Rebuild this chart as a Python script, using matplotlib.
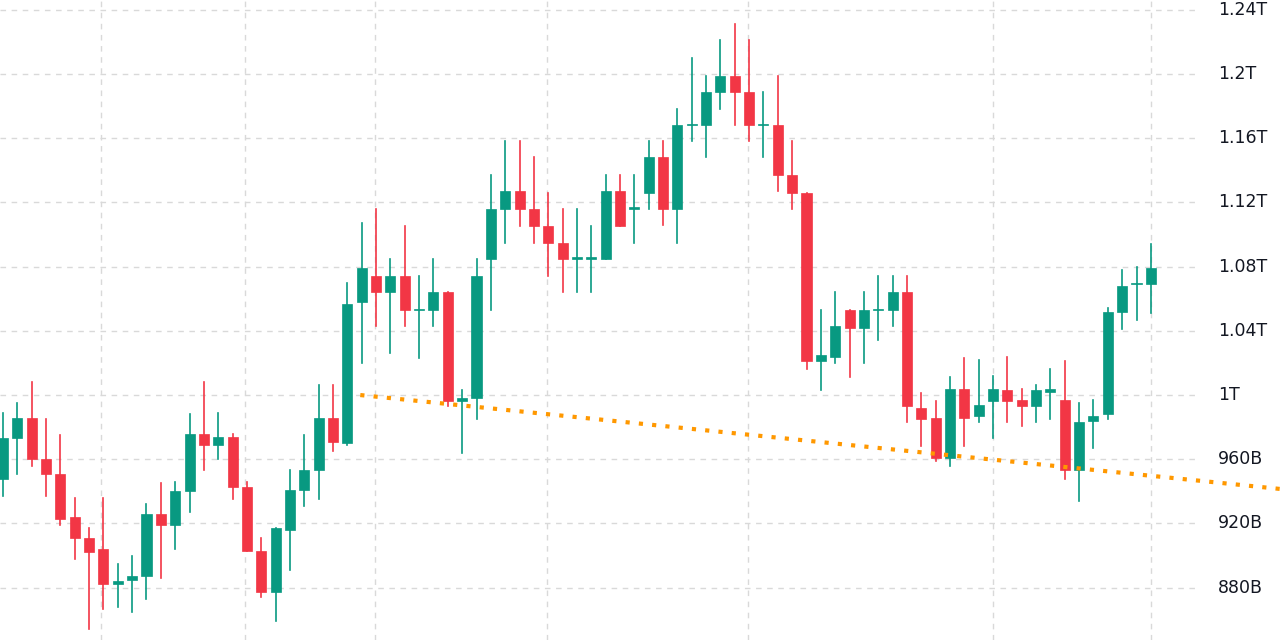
import matplotlib.pyplot as plt

opens = [948, 973, 986, 960, 951, 924, 911, 904, 882, 885, 887, 926, 919, 940, 976, 969, 974, 943, 903, 877,
         916, 941, 953, 986, 970, 1058, 1074, 1064, 1074, 1053, 1053, 1064, 996, 998, 1085, 1116, 1127, 1116, 1105, 1095,
         1085, 1085, 1085, 1127, 1116, 1126, 1148, 1116, 1168, 1168, 1189, 1199, 1189, 1168, 1168, 1137, 1126, 1021, 1024, 1053,
         1042, 1053, 1053, 1064, 992, 986, 961, 1004, 987, 996, 1003, 997, 993, 1002, 997, 953, 984, 988, 1052, 1069, 1069]
highs = [989, 995, 1008, 985, 975, 936, 917, 936, 895, 900, 932, 945, 946, 988, 1008, 989, 976, 946, 911, 917,
         953, 975, 1006, 1006, 1070, 1107, 1116, 1085, 1105, 1074, 1085, 1064, 1003, 1085, 1137, 1158, 1158, 1148, 1126, 1116,
         1116, 1105, 1137, 1137, 1137, 1158, 1158, 1178, 1210, 1199, 1221, 1231, 1221, 1189, 1199, 1158, 1126, 1053, 1064, 1053,
         1064, 1074, 1074, 1074, 1001, 996, 1011, 1023, 1022, 1012, 1024, 1004, 1006, 1016, 1021, 995, 997, 1054, 1078, 1080, 1094]
lows = [937, 951, 956, 937, 919, 898, 854, 867, 868, 865, 873, 886, 904, 927, 953, 960, 935, 903, 874, 859,
        891, 931, 935, 965, 969, 1020, 1043, 1026, 1043, 1023, 1043, 993, 964, 985, 1053, 1095, 1105, 1095, 1074, 1064,
        1064, 1064, 1085, 1105, 1095, 1116, 1106, 1095, 1158, 1148, 1178, 1168, 1158, 1148, 1127, 1116, 1016, 1003, 1020, 1011,
        1020, 1034, 1043, 983, 968, 959, 956, 968, 983, 973, 983, 981, 983, 985, 948, 934, 967, 985, 1041, 1047, 1051]
closes = [973, 986, 960, 951, 923, 911, 902, 882, 884, 887, 926, 919, 940, 976, 969, 974, 943, 903, 877, 917,
          941, 953, 986, 971, 1057, 1079, 1064, 1074, 1053, 1053.5, 1064, 996, 998, 1074, 1116, 1127, 1116, 1105, 1095, 1085,
          1085.5, 1085.5, 1127, 1105, 1116.5, 1148, 1116, 1168, 1168.5, 1189, 1199, 1189, 1168, 1168.5, 1137, 1126, 1021, 1025, 1043, 1042,
          1053, 1053.5, 1064, 993, 985, 961, 1004, 986, 994, 1004, 996, 993, 1003, 1004, 953, 983, 987, 1052, 1068, 1069.5, 1079]

trend_x = [24.9, 89.0]
trend_y = [1000, 941.5]

price_ticks = [880, 920, 960, 1000, 1040, 1080, 1120, 1160, 1200, 1240]
price_labels = ["880B", "920B", "960B", "1T", "1.04T", "1.08T", "1.12T", "1.16T", "1.2T", "1.24T"]
vgrid = [6.83, 16.9, 25.9, 37.9, 51.9, 69.0, 80.0]

green = "#089981"
red = "#F23645"

fig = plt.figure(figsize=(12.8, 6.4), dpi=100)
ax = fig.add_axes([0, 0, 1, 1])
ax.set_xlim(-0.21, 89.0)
ax.set_ylim(847.4, 1246.1)
ax.axis("off")

grid_right = 83.1
for p in price_ticks:
    ax.plot([-0.21, grid_right], [p, p], color="#d9d9d9", lw=1, ls=(0, (4, 4)), zorder=0)
for v in vgrid:
    ax.plot([v, v], [847.4, 1246.1], color="#d9d9d9", lw=1, ls=(0, (4, 4)), zorder=0)

for i in range(len(opens)):
    o, h, l, c = opens[i], highs[i], lows[i], closes[i]
    col = green if c >= o else red
    ax.plot([i, i], [l, h], color=col, lw=1.2, zorder=2)
    bottom = min(o, c)
    height = max(abs(c - o), 0.9)
    ax.bar(i, height, bottom=bottom, width=0.7, color=col, edgecolor=col, lw=0.5, zorder=3)

ax.plot(trend_x, trend_y, color="#FF9800", lw=3, ls=(0, (1, 2.2)), zorder=4)

for p, lab in zip(price_ticks, price_labels):
    ax.text(1218 / 1280, (p - 847.4) / (1246.1 - 847.4), lab, transform=ax.transAxes,
            fontsize=12.5, color="#131722", va="center", ha="left")

fig.savefig("out.png", dpi=100)
